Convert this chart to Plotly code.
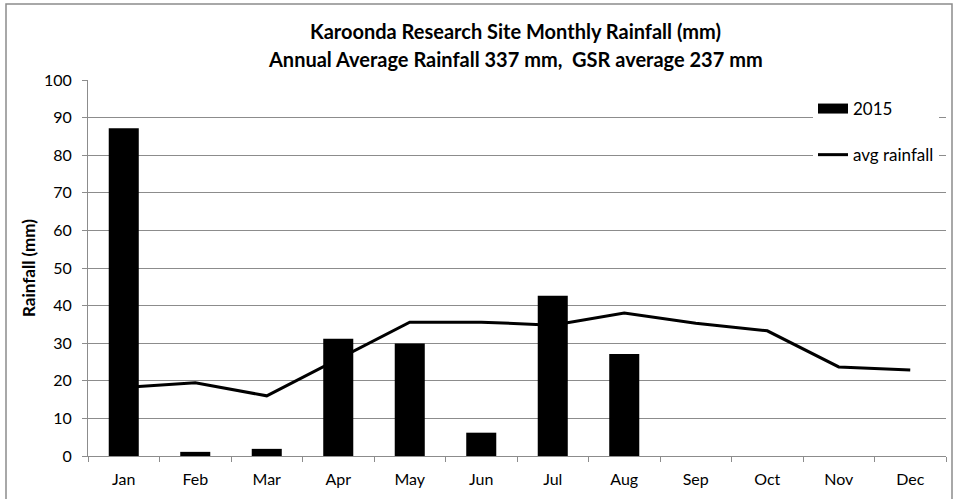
import plotly.graph_objects as go

months = ["Jan", "Feb", "Mar", "Apr", "May", "Jun", "Jul", "Aug", "Sep", "Oct", "Nov", "Dec"]
rain_2015 = [87.2, 1.1, 1.9, 31.2, 29.9, 6.2, 42.6, 27.1, None, None, None, None]
avg_rainfall = [18.2, 19.5, 16.0, 25.8, 35.6, 35.6, 34.8, 38.0, 35.3, 33.3, 23.7, 22.9]
y_ticks = [0, 10, 20, 30, 40, 50, 60, 70, 80, 90, 100]
title_lines = ["Karoonda Research Site Monthly Rainfall (mm)",
               "Annual Average Rainfall 337 mm,  GSR average 237 mm"]

W, H = 953, 499
L, R, T, B = 88, 7, 80, 43
pw, ph = W - L - R, H - T - B

def px(x):
    return (x - L) / pw

def py(y):
    return 1 - (y - T) / ph

FONT = "Lato, 'Open Sans', sans-serif"
GRID = "#8c8c8c"

fig = go.Figure()
fig.add_trace(go.Bar(
    x=months, y=rain_2015, name="2015", marker=dict(color="black", line=dict(width=0)),
    showlegend=False,
))
# legend entry for the bars drawn as a wide black swatch
fig.add_trace(go.Scatter(
    x=[None], y=[None], name="2015", mode="lines",
    line=dict(color="black", width=12), legendgroup="a",
))
fig.add_trace(go.Scatter(
    x=months, y=avg_rainfall, name="avg rainfall", mode="lines",
    line=dict(color="black", width=3), legendgroup="b",
))

fig.update_layout(
    width=W, height=H,
    margin=dict(l=L, r=R, t=T, b=B),
    paper_bgcolor="white", plot_bgcolor="white",
    font=dict(family=FONT, size=16, color="black"),
    bargap=0.58,
    showlegend=True,
    legend=dict(
        x=px(813), y=py(91), xanchor="left", yanchor="top",
        bgcolor="white", borderwidth=0, tracegroupgap=21,
        font=dict(family=FONT, size=17, color="black"),
        traceorder="grouped", itemwidth=30,
    ),
    xaxis=dict(
        type="category", showline=True, linecolor=GRID, linewidth=1,
        ticks="outside", tickson="boundaries", ticklen=5, tickcolor=GRID,
        showgrid=False, tickfont=dict(family=FONT, size=16), automargin=False,
        ticklabelstandoff=9,
    ),
    yaxis=dict(
        range=[0, 100], tickvals=y_ticks, showline=True, linecolor=GRID, linewidth=1,
        ticks="outside", ticklen=5, tickcolor=GRID,
        showgrid=True, gridcolor=GRID, gridwidth=1, zeroline=False,
        tickfont=dict(family=FONT, size=16), automargin=False,
        ticklabelstandoff=7,
        title=dict(text="<b>Rainfall (mm)</b>", font=dict(family=FONT, size=17, color="black"), standoff=4),
    ),
    annotations=[
        dict(text="<b>%s</b>" % title_lines[0], xref="paper", yref="paper",
             x=px(515), y=py(31), xanchor="center", yanchor="middle", showarrow=False,
             font=dict(family=FONT, size=20, color="black")),
        dict(text="<b>%s</b>" % title_lines[1], xref="paper", yref="paper",
             x=px(515), y=py(59), xanchor="center", yanchor="middle", showarrow=False,
             font=dict(family=FONT, size=20, color="black")),
    ],
    shapes=[
        dict(type="rect", xref="paper", yref="paper",
             x0=px(6), x1=px(952), y0=py(4), y1=py(510),
             line=dict(color=GRID, width=1.5), fillcolor="rgba(0,0,0,0)", layer="below"),
    ],
)

fig.write_html("out.html", config={"displayModeBar": False},
               post_script="document.body.style.margin='0';document.body.style.overflow='hidden';")
